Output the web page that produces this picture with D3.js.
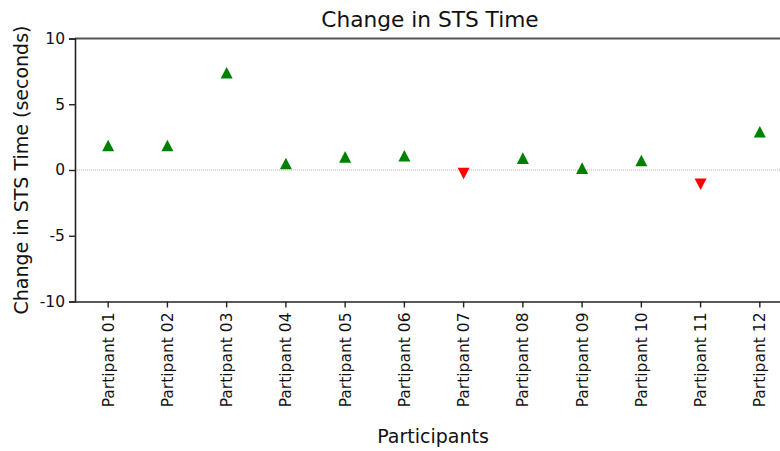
<!DOCTYPE html>
<html>
<head>
<meta charset="utf-8">
<script src="https://cdn.jsdelivr.net/npm/d3@7"></script>
<style>
  html, body { margin: 0; padding: 0; background: #fff; }
  svg { display: block; }
  svg text { font-family: "Century Gothic", "URW Gothic", "DejaVu Sans", sans-serif; }
</style>
</head>
<body>
<svg id="chart" width="780" height="451"></svg>
<script>
const participants = ["Partipant 01","Partipant 02","Partipant 03","Partipant 04","Partipant 05","Partipant 06",
                      "Partipant 07","Partipant 08","Partipant 09","Partipant 10","Partipant 11","Partipant 12"];
const changes = [1.86, 1.86, 7.40, 0.49, 1.00, 1.08, -0.27, 0.90, 0.14, 0.72, -1.08, 2.91];
const yTicks = [-10, -5, 0, 5, 10];
const title = "Change in STS Time";
const xLabel = "Participants";
const yLabel = "Change in STS Time (seconds)";

const svg = d3.select("#chart");
const W = 780, H = 451;
const m = { left: 75, top: 38.5, bottom: 301.5 };
const plotRight = 793;

const x = d3.scaleBand().domain(participants).range([m.left, plotRight]).paddingOuter(0.06).paddingInner(0);
const y = d3.scaleLinear().domain([-10, 10]).range([m.bottom, m.top]);

// zero line
svg.append("line")
  .attr("x1", m.left).attr("x2", W)
  .attr("y1", y(0)).attr("y2", y(0))
  .attr("stroke", "#b0b0b0").attr("stroke-width", 1).attr("stroke-dasharray", "1,1");

// top spine
svg.append("line")
  .attr("x1", m.left).attr("x2", W)
  .attr("y1", m.top).attr("y2", m.top)
  .attr("stroke", "#555").attr("stroke-width", 2);

// y axis
const yAxis = svg.append("g")
  .attr("transform", `translate(${m.left},0)`)
  .call(d3.axisLeft(y).tickValues(yTicks).tickSize(6).tickPadding(4).tickFormat(d => String(d)));
yAxis.attr("font-family", null).attr("font-size", null);
yAxis.select(".domain").attr("stroke", "#222").attr("stroke-width", 1.6);
yAxis.selectAll(".tick line").attr("stroke", "#222").attr("stroke-width", 1.4);
yAxis.selectAll(".tick text").attr("font-size", 15.5).attr("fill", "#111");

// x axis
const xAxis = svg.append("g")
  .attr("transform", `translate(0,${m.bottom})`)
  .call(d3.axisBottom(x).tickSize(6).tickSizeOuter(0));
xAxis.attr("font-family", null).attr("font-size", null);
xAxis.select(".domain").attr("stroke", "#222").attr("stroke-width", 1.6);
xAxis.selectAll(".tick line").attr("stroke", "#222").attr("stroke-width", 1.4);
xAxis.selectAll(".tick text")
  .attr("font-size", 15.5).attr("fill", "#111")
  .attr("transform", "rotate(-90)")
  .attr("text-anchor", "end")
  .attr("x", -11).attr("y", 0).attr("dy", "0.35em");

// markers
const mw = 6, mh = 5.8;
function tri(cx, cy, up) {
  return up
    ? `M${cx},${cy - mh}L${cx + mw},${cy + mh}L${cx - mw},${cy + mh}Z`
    : `M${cx},${cy + mh}L${cx + mw},${cy - mh}L${cx - mw},${cy - mh}Z`;
}
svg.append("g").selectAll("path")
  .data(participants.map((p, i) => ({ p, v: changes[i] })))
  .join("path")
  .attr("d", d => tri(x(d.p) + x.bandwidth() / 2, y(d.v), d.v >= 0))
  .attr("fill", d => d.v >= 0 ? "#008000" : "#ff0000");

// titles
svg.append("text").attr("x", 430).attr("y", 27).attr("text-anchor", "middle")
  .attr("font-size", 21.7).attr("fill", "#111").text(title);
svg.append("text").attr("x", 433).attr("y", 443).attr("text-anchor", "middle")
  .attr("font-size", 19).attr("fill", "#111").text(xLabel);
svg.append("text").attr("transform", `translate(28,${(m.top + m.bottom) / 2}) rotate(-90)`)
  .attr("text-anchor", "middle").attr("font-size", 19).attr("fill", "#111").text(yLabel);
</script>
</body>
</html>
